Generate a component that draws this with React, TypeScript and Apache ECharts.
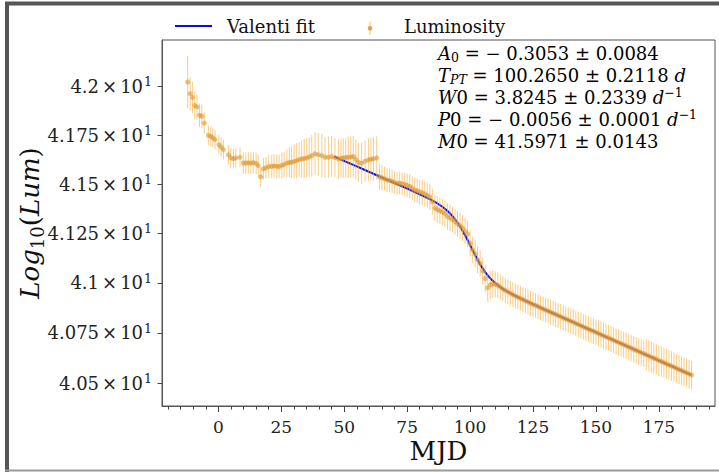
import React, { useEffect, useRef } from "react";
import * as echarts from "echarts";

// ---------- data ----------
const lumDays = [
  -12.2, -11.2, -10.3, -9.4, -8.5, -7.5, -6.6, -5.6, -4.0, -3.0, -2.2, -1.3, 0.2, 1.1, 2.0, 4.0, 4.9, 6.0, 6.9, 8.6,
  9.9, 10.9, 11.9, 12.9, 13.9, 15.0, 15.8, 16.8, 17.9, 18.9, 20.0, 21.2, 22.1, 23.2, 24.1, 25.2, 26.1, 27.2, 28.2, 29.1,
  30.1, 31.1, 32.1, 33.1, 34.1, 35.1, 36.1, 37.1, 38.4, 39.7, 41.1, 42.4, 43.7, 45.0, 46.3, 47.7, 48.7, 49.6, 50.6, 51.6,
  52.6, 53.6, 54.6, 55.6, 56.9, 58.3, 59.6, 60.6, 61.6, 62.9,
  64, 65, 66, 67, 68, 69, 70, 71, 72, 73, 74, 75, 76, 77, 78, 79, 80, 81, 82, 83, 84, 85, 86, 87, 88, 89, 90,
  91, 92, 93, 94, 95, 96, 97, 98, 99, 100, 101, 102, 103, 104, 105, 106, 107, 108, 109, 110,
  111, 112, 113, 114, 115, 116, 117, 118, 119, 120, 121, 122, 123, 124, 125, 126, 127, 128, 129, 130,
  131, 132, 133, 134, 135, 136, 137, 138, 139, 140, 141, 142, 143, 144, 145, 146, 147, 148, 149, 150,
  151, 152, 153, 154, 155, 156, 157, 158, 159, 160, 161, 162, 163, 164, 165, 166, 167, 168, 169, 170,
  171, 172, 173, 174, 175, 176, 177, 178, 179, 180, 181, 182, 183, 184, 185, 186, 187, 188,
];
const lumValues = [
  42.022, 41.962, 41.942, 41.902, 41.894, 41.851, 41.846, 41.811, 41.748, 41.743, 41.736, 41.726, 41.7, 41.688, 41.675, 41.649, 41.633, 41.628, 41.633, 41.636,
  41.607, 41.607, 41.607, 41.607, 41.609, 41.605, 41.594, 41.537, 41.577, 41.582, 41.589, 41.589, 41.592, 41.59, 41.589, 41.595, 41.599, 41.606, 41.61, 41.611,
  41.615, 41.619, 41.624, 41.628, 41.63, 41.633, 41.638, 41.645, 41.654, 41.649, 41.645, 41.636, 41.636, 41.64, 41.634, 41.628, 41.631, 41.633, 41.635, 41.636,
  41.638, 41.64, 41.625, 41.611, 41.606, 41.616, 41.623, 41.626, 41.628, 41.633,
  41.537, 41.531, 41.527, 41.52, 41.519, 41.514, 41.508, 41.503, 41.505, 41.5, 41.499, 41.493, 41.488, 41.479, 41.47, 41.466, 41.46, 41.456, 41.45, 41.443, 41.434, 41.41, 41.378, 41.37, 41.364, 41.357, 41.35,
  41.336, 41.328, 41.32, 41.309, 41.298, 41.288, 41.276, 41.262, 41.246, 41.2, 41.166, 41.146, 41.116, 41.098, 41.06, 41.022, 40.975, 40.99, 40.995, 40.993,
  40.988, 40.979, 40.97, 40.962, 40.955, 40.948, 40.941, 40.934, 40.928, 40.922, 40.916, 40.91, 40.904, 40.898, 40.892, 40.887, 40.881, 40.875, 40.87, 40.864,
  40.859, 40.853, 40.847, 40.842, 40.836, 40.831, 40.825, 40.819, 40.814, 40.808, 40.803, 40.797, 40.791, 40.786, 40.78, 40.775, 40.769, 40.763, 40.758, 40.752,
  40.747, 40.741, 40.735, 40.73, 40.724, 40.719, 40.713, 40.707, 40.702, 40.696, 40.691, 40.685, 40.679, 40.674, 40.668, 40.663, 40.657, 40.651, 40.646, 40.64,
  40.635, 40.629, 40.623, 40.618, 40.612, 40.607, 40.601, 40.595, 40.59, 40.584, 40.579, 40.573, 40.567, 40.562, 40.556, 40.551, 40.545, 40.539,
];
const lumErrors = [
  0.135, 0.085, 0.08, 0.07, 0.065, 0.06, 0.06, 0.055, 0.05, 0.05, 0.05, 0.05, 0.05, 0.05, 0.05, 0.05, 0.05, 0.05, 0.05, 0.05,
  0.055, 0.055, 0.055, 0.055, 0.055, 0.055, 0.055, 0.05, 0.055, 0.055, 0.06, 0.06, 0.06, 0.06, 0.06, 0.065, 0.065, 0.07, 0.075, 0.08,
  0.085, 0.09, 0.09, 0.095, 0.1, 0.1, 0.1, 0.105, 0.11, 0.11, 0.11, 0.105, 0.105, 0.105, 0.1, 0.1, 0.1, 0.1, 0.1, 0.105,
  0.105, 0.105, 0.1, 0.1, 0.105, 0.105, 0.11, 0.11, 0.11, 0.11,
  0.065, 0.065, 0.06, 0.06, 0.06, 0.06, 0.058, 0.058, 0.058, 0.058, 0.058, 0.06, 0.06, 0.06, 0.062, 0.062, 0.062, 0.064, 0.064, 0.065, 0.066, 0.066, 0.067, 0.067, 0.067, 0.067, 0.067,
  0.067, 0.067, 0.066, 0.066, 0.066, 0.066, 0.066, 0.066, 0.067, 0.067, 0.067, 0.068, 0.068, 0.068, 0.069, 0.07, 0.07, 0.07, 0.068, 0.066,
  0.064, 0.063, 0.063, 0.062, 0.062, 0.062, 0.062, 0.062, 0.062, 0.062, 0.062, 0.062, 0.062, 0.062, 0.062, 0.062, 0.062, 0.062, 0.062, 0.062,
  0.062, 0.062, 0.062, 0.063, 0.063, 0.063, 0.063, 0.063, 0.063, 0.063, 0.063, 0.063, 0.064, 0.064, 0.064, 0.064, 0.064, 0.064, 0.064, 0.064,
  0.065, 0.065, 0.065, 0.065, 0.065, 0.065, 0.065, 0.065, 0.065, 0.065, 0.066, 0.066, 0.066, 0.066, 0.066, 0.066, 0.066, 0.066, 0.066, 0.078,
  0.078, 0.077, 0.077, 0.076, 0.076, 0.075, 0.075, 0.074, 0.074, 0.073, 0.073, 0.072, 0.072, 0.072, 0.071, 0.071, 0.071, 0.071,
];

const fitDays = [
  46, 50, 55, 60, 65, 70, 75, 80, 84, 87, 88, 90, 91, 92, 93, 94, 95, 96, 97, 98, 99, 100, 101, 102, 103, 104, 105, 106,
  107, 108, 110, 112, 113, 116, 120, 130, 140, 150, 160, 170, 180, 188,
];
const fitValues = [
  41.64, 41.617, 41.59, 41.561, 41.533, 41.505, 41.477, 41.448, 41.423, 41.401, 41.393, 41.374, 41.363, 41.351, 41.337,
  41.321, 41.304, 41.285, 41.263, 41.24, 41.216, 41.19, 41.165, 41.14, 41.116, 41.093, 41.073, 41.054, 41.038, 41.023,
  40.998, 40.979, 40.97, 40.948, 40.922, 40.864, 40.808, 40.752, 40.696, 40.64, 40.584, 40.539,
];

const xTickLabels = [0, 25, 50, 75, 100, 125, 150, 175];
const xMinorTicks = [
  -20, -15, -10, -5, 0, 5, 10, 15, 20, 25, 30, 35, 40, 45, 50, 55, 60, 65, 70, 75, 80, 85, 90, 95, 100,
  105, 110, 115, 120, 125, 130, 135, 140, 145, 150, 155, 160, 165, 170, 175, 180, 185, 190, 195,
];
const yTickValues = [40.5, 40.75, 41, 41.25, 41.5, 41.75, 42];

const paramLines = [
  "{i|A}{sub|0}{n| = − 0.3053 ± 0.0084}",
  "{i|T}{subi|PT}{n| = 100.2650 ± 0.2118 }{i|d}",
  "{i|W}{n|0 = 3.8245 ± 0.2339 }{i|d}{sup|−1}",
  "{i|P}{n|0 = − 0.0056 ± 0.0001 }{i|d}{sup|−1}",
  "{i|M}{n|0 = 41.5971 ± 0.0143}",
];

const SERIF = "DejaVu Serif";
const X_MIN = -22.4;
const X_MAX = 197.3;
const Y_MIN = 40.386;
const Y_MAX = 42.239;

const lg = (v: number) => Math.log10(v);

export default function App() {
  const ref = useRef<HTMLDivElement>(null);
  useEffect(() => {
    if (!ref.current) return;
    const chart = echarts.init(ref.current, undefined, { renderer: "svg" });

    const errData = lumDays.map((d, i) => [d, lg(lumValues[i] - lumErrors[i]), lg(lumValues[i] + lumErrors[i])]);
    const dotData = lumDays.map((d, i) => [d, lg(lumValues[i])]);
    const fitData = fitDays.map((d, i) => [d, lg(fitValues[i])]);
    const yTicksLog = yTickValues.map(lg);

    const richMain = {
      i: { fontFamily: SERIF, fontStyle: "italic", fontSize: 18, lineHeight: 22, color: "#111" },
      n: { fontFamily: SERIF, fontSize: 18, lineHeight: 22, color: "#111" },
      sub: { fontFamily: SERIF, fontSize: 12.5, lineHeight: 14, verticalAlign: "bottom", color: "#111" },
      subi: { fontFamily: SERIF, fontStyle: "italic", fontSize: 12.5, lineHeight: 14, verticalAlign: "bottom", color: "#111" },
      sup: { fontFamily: SERIF, fontSize: 12.5, lineHeight: 14, verticalAlign: "top", color: "#111" },
    };

    const option: any = {
      animation: false,
      backgroundColor: "#ffffff",
      grid: {
        left: 162, right: 4, top: 40, bottom: 66,
        outerBoundsMode: "none", containLabel: false,
        show: true, borderColor: "#555", borderWidth: 1, backgroundColor: "transparent",
      },
      xAxis: [
        {
          type: "value", min: X_MIN, max: X_MAX,
          splitLine: { show: false },
          axisLine: { show: true, onZero: false, lineStyle: { color: "#555", width: 1 } },
          axisTick: { show: true, customValues: xTickLabels, length: 6, lineStyle: { color: "#444" } },
          axisLabel: {
            customValues: xTickLabels, fontFamily: SERIF, fontSize: 17, color: "#222", margin: 12,
          },
          name: "MJD", nameLocation: "middle", nameGap: 32, nameMoveOverlap: false,
          nameTextStyle: { fontFamily: SERIF, fontSize: 26, color: "#111" },
        },
        {
          type: "value", min: X_MIN, max: X_MAX, position: "bottom",
          splitLine: { show: false },
          axisLine: { show: false, onZero: false },
          axisTick: { show: true, customValues: xMinorTicks, length: 3.5, lineStyle: { color: "#444" } },
          axisLabel: { show: false },
        },
      ],
      yAxis: {
        type: "value", min: lg(Y_MIN), max: lg(Y_MAX),
        splitLine: { show: false },
        axisLine: { show: true, onZero: false, lineStyle: { color: "#555", width: 1 } },
        axisTick: { show: true, customValues: yTicksLog, length: 4.5, lineStyle: { color: "#444" } },
        axisLabel: {
          customValues: yTicksLog, margin: 10,
          formatter: (val: number) => {
            const raw = Math.pow(10, val);
            const m = Math.round(raw * 1000) / 10000;
            return `{a|${m}}{x|×}{a|10}{s|1}`;
          },
          rich: {
            a: { fontFamily: SERIF, fontSize: 18, lineHeight: 22, color: "#222" },
            x: { fontFamily: SERIF, fontSize: 18, lineHeight: 22, color: "#222", padding: [0, 3, 0, 3] },
            s: { fontFamily: SERIF, fontSize: 12.5, lineHeight: 14, verticalAlign: "top", color: "#222", padding: [0, 0, 0, 1] },
          },
        },
        name: "{i|Log}{sub|10}{n|(}{i|Lum}{n|)}",
        nameLocation: "middle", nameRotate: 90, nameGap: 116, nameMoveOverlap: false,
        nameTextStyle: {
          rich: {
            i: { fontFamily: SERIF, fontStyle: "italic", fontSize: 26, lineHeight: 32, color: "#111" },
            n: { fontFamily: SERIF, fontSize: 26, lineHeight: 32, color: "#111" },
            sub: { fontFamily: SERIF, fontSize: 18, lineHeight: 20, verticalAlign: "bottom", color: "#111" },
          },
        },
      },
      series: [
        {
          name: "Valenti fit", type: "line", data: fitData, showSymbol: false, symbol: "none",
          lineStyle: { color: "#0a0aee", width: 2 }, z: 2,
        },
        {
          name: "Luminosity err", type: "custom", data: errData, z: 3,
          encode: { x: 0, y: [1, 2] },
          renderItem: (params: any, api: any) => {
            const x = api.value(0);
            const p1 = api.coord([x, api.value(1)]);
            const p2 = api.coord([x, api.value(2)]);
            return {
              type: "line",
              shape: { x1: p1[0], y1: p1[1], x2: p2[0], y2: p2[1] },
              style: { stroke: "rgba(242,182,75,0.68)", lineWidth: 1 },
            };
          },
        },
        {
          name: "Luminosity", type: "scatter", data: dotData, symbolSize: 5, z: 4,
          itemStyle: { color: "rgba(222,150,45,0.75)" },
        },
      ],
      graphic: [
        // outer frame
        { type: "line", shape: { x1: 7, y1: 2, x2: 7, y2: 472 }, style: { stroke: "#555", lineWidth: 4 } },
        { type: "line", shape: { x1: 5, y1: 3.5, x2: 719, y2: 3.5 }, style: { stroke: "#555", lineWidth: 4 } },
        { type: "line", shape: { x1: 5, y1: 470.5, x2: 719, y2: 470.5 }, style: { stroke: "#999", lineWidth: 2 } },
        // legend
        { type: "line", shape: { x1: 175, y1: 26, x2: 212, y2: 26 }, style: { stroke: "#0a0aee", lineWidth: 2 } },
        {
          type: "text", x: 227, y: 26,
          style: { text: "Valenti fit", fontFamily: SERIF, fontSize: 18, fill: "#111", verticalAlign: "middle", align: "left" },
        },
        { type: "line", shape: { x1: 370, y1: 21.5, x2: 370, y2: 35 }, style: { stroke: "rgba(242,182,75,0.85)", lineWidth: 1 } },
        { type: "circle", shape: { cx: 370, cy: 28.3, r: 2.3 }, style: { fill: "rgba(222,150,45,0.85)" } },
        {
          type: "text", x: 404, y: 26,
          style: { text: "Luminosity", fontFamily: SERIF, fontSize: 18, fill: "#111", verticalAlign: "middle", align: "left" },
        },
        // fit parameters
        ...paramLines.map((t, k) => ({
          type: "text", x: 438, y: 53 + k * 22,
          style: { text: t, rich: richMain, verticalAlign: "middle", align: "left", fontFamily: SERIF, fontSize: 18 },
        })),
      ],
    };

    chart.setOption(option);
    return () => chart.dispose();
  }, []);

  return (
    <div
      ref={ref}
      style={{ position: "fixed", left: 0, top: 0, width: 719, height: 472, background: "#fff" }}
    />
  );
}
